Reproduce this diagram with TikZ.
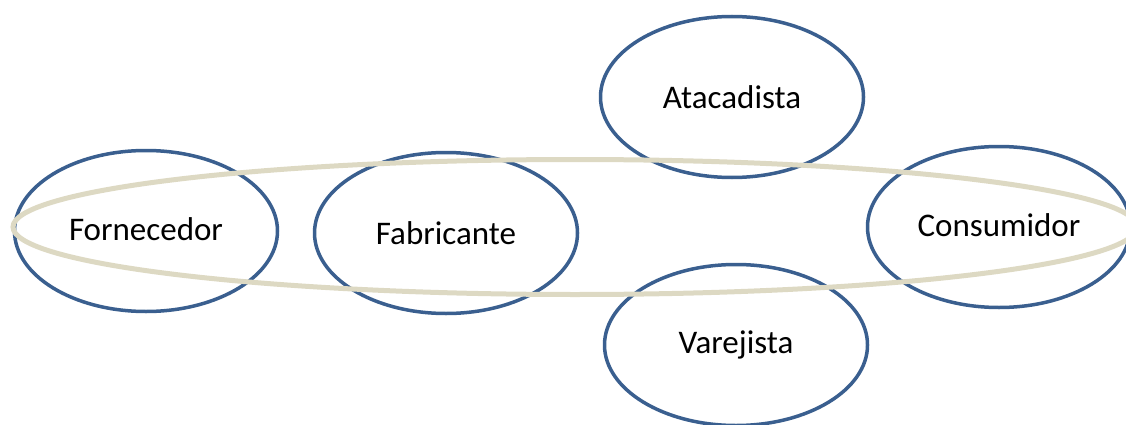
\documentclass[tikz,border=0pt]{standalone}
\usepackage{fontspec}
\setmainfont{Carlito}
\usetikzlibrary{shapes.geometric}
\definecolor{ringblue}{HTML}{3A5F8F}
\definecolor{ringbeige}{HTML}{DDD9C3}
\tikzset{
  actor/.style={ellipse, draw=ringblue, line width=3.5pt, minimum width=263pt, minimum height=161pt, inner sep=0pt, font=\fontsize{33}{37}\selectfont},
  chain/.style={draw=ringbeige, line width=5pt}
}
\begin{document}
\begin{tikzpicture}[x=1pt,y=-1pt]
\useasboundingbox (0,0) rectangle (1126,425);
\clip (0,0) rectangle (1126,425);
\node[actor] (forn) at (146,231) {\raisebox{3pt}{Fornecedor}};
\node[actor] (fabr) at (446,233) {Fabricante};
\node[actor] (atac) at (732,97) {Atacadista};
\node[actor] (varj) at (736,345) {Varejista};
\node[actor] (cons) at (999,227) {\raisebox{4pt}{Consumidor}};
\node[chain, ellipse, minimum width=1124pt, minimum height=135pt, inner sep=0pt] (cadeia) at (575,227) {};
\end{tikzpicture}
\end{document}
